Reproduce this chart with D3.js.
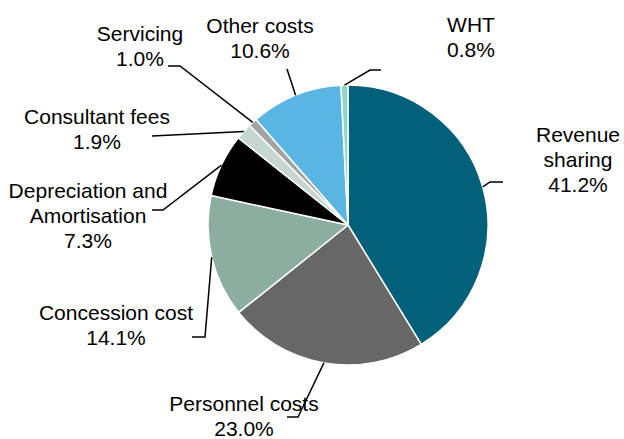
<!DOCTYPE html>
<html lang="en">
<head>
    <meta charset="UTF-8">
    <title>Cost breakdown</title>
    <script src="https://d3js.org/d3.v7.min.js"></script>
    <style>
        * {
            margin: 0;
            padding: 0;
            box-sizing: border-box;
        }

        html, body {
            width: 624px;
            height: 439px;
            overflow: hidden;
            background: #fff;
        }

        svg {
            width: 624px;
            height: 439px;
            font-family: "Liberation Sans", Arial, sans-serif;
        }
    </style>
</head>
<body>
<svg id="chart" viewBox="0 0 624 439"></svg>
<script>
    // slices, clockwise from 12 o'clock
    const categories = [ "Revenue sharing", "Personnel costs", "Concession cost", "Depreciation and Amortisation",
        "Consultant fees", "Servicing", "Other costs", "WHT" ]
    const values = [ 41.2, 23.0, 14.1, 7.3, 1.9, 1.0, 10.6, 0.8 ]
    const labelLines = [
        [ "Revenue", "sharing", "41.2%" ],
        [ "Personnel costs", "23.0%" ],
        [ "Concession cost", "14.1%" ],
        [ "Depreciation and", "Amortisation", "7.3%" ],
        [ "Consultant fees", "1.9%" ],
        [ "Servicing", "1.0%" ],
        [ "Other costs", "10.6%" ],
        [ "WHT", "0.8%" ],
    ]
    const colors = [ "#03607a", "#676767", "#8cae9f", "#000000", "#c6d6d0", "#a3a3a3", "#59b5e2", "#8ed8c9" ]

    // label placement: text centre x, first baseline y, leader elbow + end
    const layout = [
        { x: 578, y: 142, leader: [ [ 490, 182 ], [ 503, 182 ] ] },
        { x: 244, y: 411, leader: [ [ 298, 417 ], [ 287, 417 ] ] },
        { x: 116, y: 320, leader: [ [ 205, 337 ], [ 192, 337 ] ] },
        { x: 88, y: 198, leader: [ [ 163, 210 ], [ 152, 210 ] ] },
        { x: 97, y: 124, leader: [ [ 152, 136 ] ] },
        { x: 140, y: 41, leader: [ [ 180, 66 ], [ 168, 66 ] ] },
        { x: 260, y: 33, leader: [ [ 287, 69 ] ] },
        { x: 471, y: 32, leader: [ [ 370, 70 ], [ 381, 70 ] ] },
    ]

    const cx = 348, cy = 225, r = 140

    const svg = d3.select("#chart")
    const g = svg.append("g").attr("transform", `translate(${cx},${cy})`)

    const pie = d3.pie().sort(null).value(d => d)
    const arcs = pie(values)
    const arc = d3.arc().innerRadius(0).outerRadius(r)

    g.selectAll("path.slice")
        .data(arcs)
        .join("path")
        .attr("class", "slice")
        .attr("d", arc)
        .attr("fill", (_, i) => colors[i])
        .attr("stroke", "#fff")
        .attr("stroke-width", 1.5)
        .attr("stroke-linejoin", "round")

    // leader lines start on the rim at each slice's mid angle
    const line = d3.line()
    svg.selectAll("path.leader")
        .data(arcs)
        .join("path")
        .attr("class", "leader")
        .attr("d", (d, i) => {
            const a = (d.startAngle + d.endAngle) / 2
            const start = [ cx + r * Math.sin(a), cy - r * Math.cos(a) ]
            return line([ start ].concat(layout[i].leader))
        })
        .attr("fill", "none")
        .attr("stroke", "#000")
        .attr("stroke-width", 1.5)

    const labels = svg.selectAll("text.label")
        .data(labelLines)
        .join("text")
        .attr("class", "label")
        .attr("text-anchor", "middle")
        .attr("font-size", 21)
        .attr("fill", "#000")
    labels.selectAll("tspan")
        .data((d, i) => d.map((t, j) => ({ t, j, i })))
        .join("tspan")
        .attr("x", d => layout[d.i].x)
        .attr("y", d => layout[d.i].y + d.j * 25)
        .text(d => d.t)
</script>
</body>
</html>
